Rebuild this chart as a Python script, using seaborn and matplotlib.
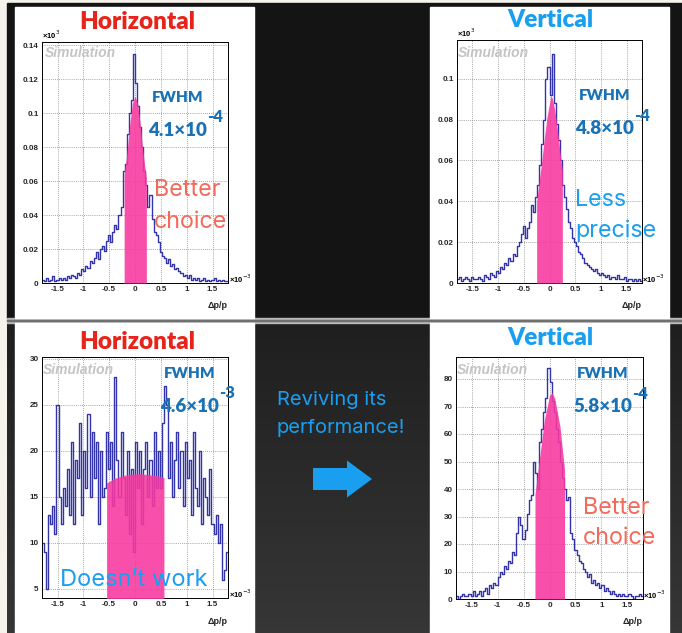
import numpy as np
import pandas as pd
import matplotlib
matplotlib.use("Agg")
import matplotlib.pyplot as plt
from matplotlib.patches import Rectangle, FancyArrow
from matplotlib.colors import LinearSegmentedColormap
from matplotlib.ticker import MultipleLocator, FuncFormatter
import seaborn as sns

# shared binning, dp/p in units of 1e-3
bin_edges = np.round(np.arange(-1.8, 1.8001, 0.04), 2)
bin_centers = (bin_edges[:-1] + bin_edges[1:]) / 2

# counts per bin (left to right, -1.78 ... 1.78)
hor_before = [2, 1, 3, 1, 2, 4, 1, 2, 3, 2,
              3, 2, 4, 3, 5, 4, 3, 6, 5, 8,
              7, 10, 9, 13, 12, 15, 18, 14, 20, 22,
              19, 25, 28, 24, 30, 34, 32, 40, 45, 66,
              70, 88, 100, 108, 135, 118, 104, 92, 80, 66,
              58, 45, 52, 38, 30, 28, 24, 18, 16, 15,
              12, 14, 10, 11, 8, 9, 7, 6, 4, 5,
              3, 5, 2, 3, 2, 3, 1, 2, 3, 1,
              2, 1, 2, 3, 1, 2, 1, 2, 1, 1]
ver_before = [2, 3, 1, 2, 3, 2, 1, 3, 2, 2,
              3, 2, 1, 4, 3, 2, 5, 4, 3, 6,
              5, 8, 7, 10, 9, 12, 11, 14, 13, 18,
              20, 24, 28, 22, 27, 30, 38, 35, 42, 48,
              58, 68, 80, 100, 106, 92, 112, 88, 78, 70,
              60, 48, 42, 36, 30, 27, 22, 20, 18, 15,
              14, 12, 10, 9, 8, 7, 6, 7, 5, 4,
              5, 4, 3, 4, 2, 3, 3, 2, 4, 2,
              2, 3, 1, 2, 2, 1, 2, 1, 2, 1]
hor_after = [10, 9, 5, 13, 12, 14, 11, 25, 15, 12,
             16, 14, 18, 13, 21, 12, 19, 17, 23, 13,
             20, 16, 24, 15, 22, 17, 21, 12, 20, 15,
             16, 22, 18, 21, 14, 28, 19, 15, 22, 17,
             13, 20, 11, 18, 9, 21, 16, 20, 12, 18,
             21, 15, 19, 14, 22, 16, 20, 16, 23, 27,
             25, 17, 21, 15, 19, 22, 16, 20, 14, 21,
             17, 19, 13, 22, 16, 14, 20, 12, 17, 15,
             13, 18, 12, 11, 13, 10, 12, 6, 7, 9]
ver_after = [1, 0, 1, 2, 1, 1, 2, 1, 3, 1,
             2, 3, 1, 3, 4, 2, 5, 4, 6, 5,
             8, 10, 9, 12, 11, 14, 13, 17, 16, 24,
             30, 27, 22, 25, 31, 36, 38, 50, 46, 40,
             57, 62, 68, 73, 84, 79, 72, 68, 62, 57,
             50, 44, 40, 36, 37, 24, 22, 18, 16, 14,
             13, 11, 10, 8, 9, 6, 7, 5, 6, 4,
             5, 3, 4, 3, 2, 3, 2, 1, 2, 1,
             2, 1, 1, 2, 1, 0, 1, 1, 2, 1]

# pink FWHM band: points along its top edge
hor_before_fit_x = [-0.21, -0.15, -0.10, -0.05, 0.0, 0.05, 0.10, 0.15, 0.22]
hor_before_fit_y = [64, 78, 94, 106, 110, 106, 94, 78, 62]
ver_before_fit_x = [-0.25, -0.2, -0.15, -0.1, -0.05, 0.0, 0.03, 0.06, 0.1, 0.15, 0.2, 0.25]
ver_before_fit_y = [40, 50, 60, 71, 81, 88, 92, 90, 85, 76, 65, 55]
hor_after_fit_x = [-0.55, -0.4, -0.2, 0.0, 0.1, 0.2, 0.4, 0.56]
hor_after_fit_y = [16.5, 17.0, 17.35, 17.5, 17.5, 17.45, 17.3, 17.1]
ver_after_fit_x = [-0.28, -0.2, -0.1, 0.0, 0.05, 0.1, 0.2, 0.29]
ver_after_fit_y = [38, 50, 65, 74, 75, 73, 63, 47]

fwhm_labels = ["4.1\u00d710", "4.8\u00d710", "4.6\u00d710", "5.8\u00d710"]
fwhm_powers = ["-4", "-4", "-3", "-4"]

HIST_BLUE = "#3434aa"
PINK = "#f8389f"
RED = "#e8231a"
SKY = "#1a9ff0"
FWHM_BLUE = "#1a72b5"
SALMON = "#f26a5a"

sns.set_style("white")
plt.rcParams["font.family"] = ["Lato", "DejaVu Sans"]
plt.rcParams["axes.unicode_minus"] = False

W, H = 682, 633
fig = plt.figure(figsize=(W / 100, H / 100), dpi=100)


def px_axes(x0, y0, x1, y1):
    return fig.add_axes([x0 / W, 1 - y1 / H, (x1 - x0) / W, (y1 - y0) / H])


def pixel_space(ax):
    ax.set_xlim(0, W)
    ax.set_ylim(H, 0)
    ax.axis("off")


# slide background
bg = px_axes(0, 0, W, H)
bg.add_patch(Rectangle((0, 0), W, H, color="#f6f3ec", zorder=0))
bg.add_patch(Rectangle((7, 3), W - 7, 315, color="#141414", zorder=0.5))
grad = np.linspace(0, 1, 64).reshape(-1, 1)
bg.imshow(grad, extent=(7, W, H, 323), aspect="auto", zorder=1,
          cmap=LinearSegmentedColormap.from_list("slide", ["#1f1f1f", "#363636"]))
bg.add_patch(Rectangle((7, 318), W - 7, 5, color="#b8b8b8", zorder=2))
bg.add_patch(Rectangle((7, 320), W - 7, 1, color="#707070", zorder=2))
for x0, y0, y1 in [(15, 7, 318), (430, 7, 318), (15, 323, H), (430, 323, H)]:
    bg.add_patch(Rectangle((x0, y0), 239, y1 - y0, color="white", zorder=2))
bg.add_patch(FancyArrow(313, 479, 59, 0, width=22, head_width=37, head_length=25,
                        length_includes_head=True, color=SKY, lw=0, zorder=2))
pixel_space(bg)


def fmt(v, pos):
    v = round(v, 6)
    return "0" if v == 0 else f"{v:g}"


def draw_hist(box, counts, scale, fit_x, fit_y, ylim, ymajor, yminor):
    ax = px_axes(*box)
    df = pd.DataFrame({"dpp": bin_centers, "n": np.asarray(counts, dtype=float) / scale})
    sns.histplot(data=df, x="dpp", weights="n", bins=bin_edges.tolist(),
                 element="step", fill=False, color=HIST_BLUE, linewidth=1.0, ax=ax)
    ax.fill_between(fit_x, np.asarray(fit_y) / scale, 0, color=PINK, alpha=0.88,
                    linewidth=0, zorder=3)
    ax.set_xlim(-1.8, 1.8)
    ax.set_ylim(*ylim)
    ax.set_xlabel("")
    ax.set_ylabel("")
    ax.xaxis.set_major_locator(MultipleLocator(0.5))
    ax.xaxis.set_minor_locator(MultipleLocator(0.1))
    ax.yaxis.set_major_locator(MultipleLocator(ymajor))
    ax.yaxis.set_minor_locator(MultipleLocator(yminor))
    ax.xaxis.set_major_formatter(FuncFormatter(fmt))
    ax.yaxis.set_major_formatter(FuncFormatter(fmt))
    ax.grid(which="major", linestyle=(0, (1, 1.5)), color="#8a8a8a", linewidth=0.6)
    ax.tick_params(which="both", direction="in", top=False, right=False, width=0.6,
                   labelsize=5.8, pad=2.5, labelfontfamily="Liberation Sans")
    ax.tick_params(which="major", length=4)
    ax.tick_params(which="minor", length=2)
    plt.setp(ax.get_xticklabels() + ax.get_yticklabels(), fontweight="bold")
    for s in ax.spines.values():
        s.set_linewidth(0.7)
        s.set_color("black")
    return ax


draw_hist((42, 42, 228, 283), hor_before, 1000, hor_before_fit_x, hor_before_fit_y,
          (0, 0.142), 0.02, 0.004)
draw_hist((457, 40, 642, 283), ver_before, 1000, ver_before_fit_x, ver_before_fit_y,
          (0, 0.119), 0.02, 0.004)
draw_hist((42, 357, 228, 598), hor_after, 1, hor_after_fit_x, hor_after_fit_y,
          (4, 30.2), 5, 1)
draw_hist((456, 357, 643, 599), ver_after, 1, ver_after_fit_x, ver_after_fit_y,
          (0, 88), 10, 2)

# annotations on top
fg = px_axes(0, 0, W, H)
pixel_space(fg)
fg.patch.set_visible(False)

small = dict(fontsize=5.5, fontfamily="Liberation Sans", fontweight="bold", color="black")
for x, y in [(42, 39), (457, 37)]:
    fg.text(x, y, "\u00d710$^{3}$", ha="left", va="baseline", **small)
for x, y in [(229, 283), (642, 283), (229, 598), (643, 599)]:
    fg.text(x, y, "\u00d710$^{-3}$", ha="left", va="baseline", **small)
for x, y in [(228, 305), (642, 305), (228, 622), (643, 622)]:
    fg.text(x, y, "\u0394p/p", ha="right", va="center", fontsize=6.5,
            fontfamily="Liberation Sans", fontweight="bold")

for x, y, t, c in [(137, 22, "Horizontal", RED), (550, 20, "Vertical", SKY),
                   (137, 342, "Horizontal", RED), (550, 338, "Vertical", SKY)]:
    fg.text(x, y, t, ha="center", va="center", fontsize=17.5, fontweight="heavy", color=c)

for x, y in [(45, 53), (458, 53), (43, 370), (457, 370)]:
    fg.text(x, y, "Simulation", ha="left", va="center", fontsize=10, fontweight="bold",
            fontstyle="italic", fontfamily="Liberation Sans", color="#c4c4c4")

for (x, y), lab, pw in zip([(148, 130), (575, 129), (160, 406), (573, 407)],
                           fwhm_labels, fwhm_powers):
    fg.text(x + 30, y - 33, "FWHM", ha="center", va="center", fontsize=11,
            fontweight="heavy", color=FWHM_BLUE)
    base = fg.text(x, y, lab, ha="left", va="center", fontsize=13.5,
                   fontweight="heavy", color=FWHM_BLUE)
    fg.annotate(pw, xy=(1.0, 0.8), xycoords=base, ha="left", va="bottom",
                fontsize=12, fontweight="heavy", color=FWHM_BLUE)

body = ["Inter", "DejaVu Sans"]
big = dict(fontsize=16.8, fontweight="normal", ha="left", va="center", family=body)
fg.text(154, 190, "Better", color=SALMON, **big)
fg.text(154, 222, "choice", color=SALMON, **big)
fg.text(575, 200, "Less", color=SKY, **big)
fg.text(575, 231, "precise", color=SKY, **big)
fg.text(583, 508, "Better", color=SALMON, **big)
fg.text(583, 538, "choice", color=SALMON, **big)
fg.text(60, 580, "Doesn\u2019t work", color=SKY, fontsize=17, ha="left", va="center",
        family=body)
fg.text(277, 400, "Reviving its", color=SKY, fontsize=14.5, ha="left", va="center",
        family=body)
fg.text(277, 428, "performance!", color=SKY, fontsize=14.5, ha="left", va="center",
        family=body)

fig.savefig("out.png", dpi=100)
